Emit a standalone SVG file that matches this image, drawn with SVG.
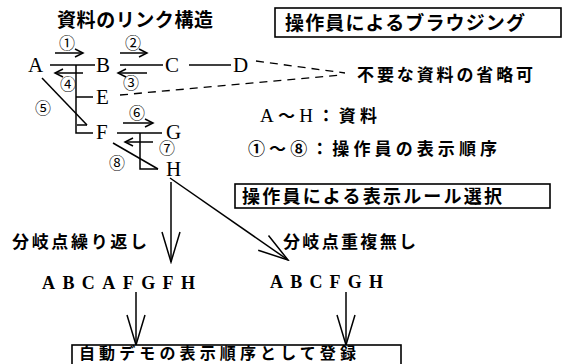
<svg xmlns="http://www.w3.org/2000/svg" width="565" height="364" viewBox="0 0 565 364">
<style>
.jp{font-family:"Noto Sans CJK JP","Noto Sans",sans-serif;font-weight:bold;fill:#000}
.node{font-family:"Liberation Serif",serif;font-size:21px;fill:#000}
.seq{font-family:"Liberation Serif",serif;font-size:18px;font-weight:bold;fill:#000}
.num{font-family:"Noto Sans CJK JP","DejaVu Sans",sans-serif;font-size:16px;fill:#000}
.ln{stroke:#000;stroke-width:1.5;fill:none}
.dash{stroke:#000;stroke-width:1.3;fill:none;stroke-dasharray:8 6}
.box{stroke:#000;stroke-width:1.6;fill:#fff}
</style>
<defs>
<marker id="sa" viewBox="-10 -6 12 12" markerWidth="12" markerHeight="12" refX="0" refY="0" orient="auto" markerUnits="userSpaceOnUse">
<path d="M-8,-4 L0,0 L-8,4" fill="none" stroke="#000" stroke-width="1.5"/>
</marker>
<marker id="big" viewBox="-33 -12 35 24" markerWidth="35" markerHeight="24" refX="0" refY="0" orient="auto" markerUnits="userSpaceOnUse">
<path d="M-30,-9 L0,0 L-30,9" fill="none" stroke="#000" stroke-width="1.5"/>
</marker>
</defs>
<rect width="565" height="364" fill="#fff"/>

<g id="title"><text class="jp" x="57" y="27" font-size="19" textLength="156" lengthAdjust="spacing">資料のリンク構造</text></g>

<g id="box-browsing">
<rect class="box" x="275" y="8" width="286" height="29"/>
<text class="jp" x="285" y="30" font-size="19" textLength="240" lengthAdjust="spacing">操作員によるブラウジング</text>
</g>

<g id="connectors">
<line class="ln" x1="50" y1="65" x2="95" y2="65"/>
<line class="ln" x1="120" y1="65" x2="163" y2="65"/>
<line class="ln" x1="189" y1="65" x2="231" y2="65"/>
<polyline class="ln" points="76,65 76,133 93,133"/>
<line class="ln" x1="76" y1="97" x2="93" y2="97"/>
<line class="ln" x1="117" y1="133" x2="162" y2="133"/>
<polyline class="ln" points="140,133 140,169 158,169"/>
<line class="ln" x1="55" y1="53" x2="83" y2="53" marker-end="url(#sa)"/>
<line class="ln" x1="83" y1="73" x2="55" y2="73" marker-end="url(#sa)"/>
<line class="ln" x1="120" y1="53" x2="147" y2="53" marker-end="url(#sa)"/>
<line class="ln" x1="147" y1="73" x2="118" y2="73" marker-end="url(#sa)"/>
<line class="ln" x1="123" y1="123" x2="153" y2="123" marker-end="url(#sa)"/>
<line class="ln" x1="153" y1="142" x2="125" y2="142" marker-end="url(#sa)"/>
<line class="ln" x1="42" y1="78" x2="87" y2="125"/>
<line class="ln" x1="87" y1="125" x2="77" y2="125"/>
<line class="ln" x1="113" y1="143" x2="158" y2="169"/>
<line class="dash" x1="256" y1="61" x2="345" y2="73"/>
<line class="dash" x1="120" y1="95" x2="341" y2="75"/>
<line class="ln" x1="171" y1="182" x2="171" y2="262" marker-end="url(#big)"/>
<line class="ln" x1="170" y1="178" x2="288" y2="260" marker-end="url(#big)"/>
<line class="ln" x1="136" y1="292" x2="136" y2="345" marker-end="url(#big)"/>
<line class="ln" x1="346" y1="292" x2="346" y2="345" marker-end="url(#big)"/>
</g>

<g id="nodeA"><text class="node" x="28" y="72">A</text></g>
<g id="nodeB"><text class="node" x="96" y="72">B</text></g>
<g id="nodeC"><text class="node" x="165" y="72">C</text></g>
<g id="nodeD"><text class="node" x="233" y="72">D</text></g>
<g id="nodeE"><text class="node" x="96" y="104">E</text></g>
<g id="nodeF"><text class="node" x="96" y="139">F</text></g>
<g id="nodeG"><text class="node" x="166" y="139">G</text></g>
<g id="nodeH"><text class="node" x="166" y="176">H</text></g>

<g id="order-labels">
<text class="num" x="67" y="49" text-anchor="middle">①</text>
<text class="num" x="133" y="49" text-anchor="middle">②</text>
<text class="num" x="131" y="89" text-anchor="middle">③</text>
<text class="num" x="68" y="90" text-anchor="middle">④</text>
<text class="num" x="43" y="114" text-anchor="middle">⑤</text>
<text class="num" x="137" y="119" text-anchor="middle">⑥</text>
<text class="num" x="167" y="154" text-anchor="middle">⑦</text>
<text class="num" x="117" y="169" text-anchor="middle">⑧</text>
</g>

<g id="omit-note"><text class="jp" x="357" y="81" font-size="17" textLength="176" lengthAdjust="spacing">不要な資料の省略可</text></g>

<g id="legend">
<text class="jp" x="260" y="122" font-size="17" textLength="117" lengthAdjust="spacing"><tspan font-family="Liberation Serif" font-weight="normal" font-size="19">A</tspan>～<tspan font-family="Liberation Serif" font-weight="normal" font-size="19">H</tspan>：資料</text>
<text class="jp" x="248" y="155" font-size="17" textLength="249" lengthAdjust="spacing">①～⑧：操作員の表示順序</text>
</g>

<g id="box-rule">
<rect class="box" x="235" y="184" width="315" height="24"/>
<text class="jp" x="242" y="203" font-size="18" textLength="260" lengthAdjust="spacing">操作員による表示ルール選択</text>
</g>

<g id="rule-repeat">
<text class="jp" x="12" y="248" font-size="17" textLength="135" lengthAdjust="spacing">分岐点繰り返し</text>
<text class="seq" x="42" y="289" textLength="153" lengthAdjust="spacing">ABCAFGFH</text>
</g>

<g id="rule-nodup">
<text class="jp" x="283" y="248" font-size="17" textLength="133" lengthAdjust="spacing">分岐点重複無し</text>
<text class="seq" x="270" y="288" textLength="113" lengthAdjust="spacing">ABCFGH</text>
</g>

<g id="box-register">
<rect class="box" x="72" y="345" width="329" height="24"/>
<text class="jp" x="79" y="359" font-size="16" textLength="277" lengthAdjust="spacing">自動デモの表示順序として登録</text>
</g>
</svg>
